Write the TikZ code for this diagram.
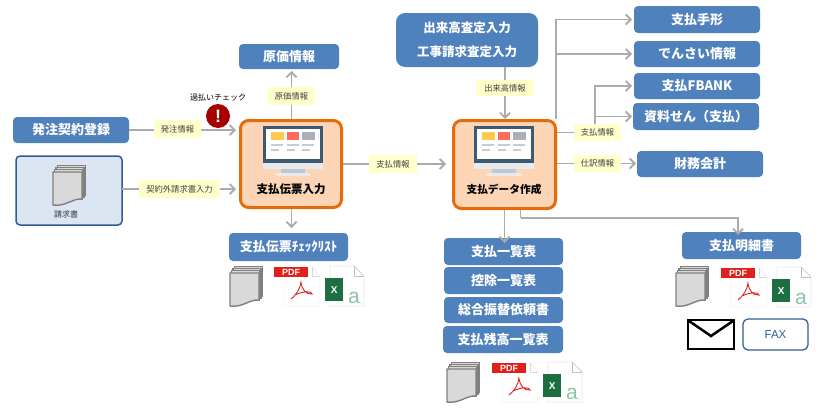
\documentclass[tikz,border=0pt]{standalone}
\usepackage{fontspec}
\setmainfont{Noto Sans CJK JP}
\newfontfamily\lat{Liberation Sans}
\usetikzlibrary{arrows.meta}
\definecolor{bluebox}{HTML}{4F81BD}
\definecolor{flowgray}{HTML}{ABABAB}
\definecolor{lblfill}{HTML}{FFFFCC}
\definecolor{orangeb}{HTML}{E46C0A}
\definecolor{orangef}{HTML}{FBD5B5}
\definecolor{docline}{HTML}{808080}
\definecolor{docfill}{HTML}{D9D9D9}
\definecolor{monit}{HTML}{3D5A73}
\definecolor{xlgreen}{HTML}{1D6F42}
\definecolor{pdfred}{HTML}{E0201B}
\definecolor{edgeblue}{HTML}{2F5C94}
\definecolor{paleblue}{HTML}{DCE6F2}
\definecolor{scry}{HTML}{FFC94D}
\definecolor{scrr}{HTML}{FF6B5B}
\definecolor{scrg}{HTML}{A9B0B8}
\definecolor{scrl}{HTML}{C5CDD8}
\definecolor{lipc}{HTML}{E8EAEC}
\definecolor{standc}{HTML}{BCC8D4}
\definecolor{aclr}{HTML}{8CC5A8}
\newcommand{\bxnode}[7][]{\node[#2,#1,minimum width={(#5-#3)*1pt},minimum height={(#6-#4)*1pt}] (#7) at ({(#3+#5)/2},{(#4+#6)/2})}
\tikzset{
 x=1pt,y=-1pt,
 bbox/.style={fill=bluebox,rounded corners=4pt,inner sep=0pt,outer sep=0pt,text=white,font=\fontsize{13}{15}\selectfont\bfseries,align=center},
 obox/.style={draw=orangeb,line width=3pt,fill=orangef,rounded corners=8pt,inner sep=0pt,outer sep=1.5pt},
 lbl/.style={fill=lblfill,inner sep=0pt,outer sep=0pt,font=\fontsize{8.3}{10}\selectfont,text=black!75},
 capt/.style={inner sep=0pt,font=\fontsize{11.5}{13}\selectfont\bfseries,text=black},
 flow/.style={draw=flowgray,line width=1.8pt,-{Straight Barb[length=5pt,width=10pt,line width=1.8pt]}},
 flowp/.style={draw=flowgray,line width=1.8pt},
 monitor/.pic={
  \fill[monit] (-30,0) rectangle (30,37);
  \fill[white] (-27,3) rectangle (27,33);
  \fill[lipc] (-30,37) rectangle (30,43);
  \fill[standc] (-12,43) rectangle (12,47);
  \fill[lipc] (-17,47) rectangle (17,50);
  \fill[scry] (-22,6) rectangle (-9,14);
  \fill[scrr] (-6,6) rectangle (6,14);
  \fill[scrg] (9,6) rectangle (22,14);
  \foreach \xa in {-22,-6,9}{
   \fill[scrl] (\xa,18) rectangle ++(12.5,2);
   \fill[scrl] (\xa,23) rectangle ++(8,2);}
 },
 docstack/.pic={
  \foreach \dx/\dy in {4.5/0.5,3/2.5,1.5/4.5}{
   \draw[docline,line width=1.1pt,fill=docfill] (\dx,\dy) rectangle ++(28,30);}
  \draw[docline,line width=1.4pt,fill=docfill] (0,7) -- (29,7) -- (29,34) .. controls (20,33) and (12,42) .. (0,40) -- cycle;
 },
 fileicons/.pic={
  \draw[black!12,fill=white] (10,0) -- (38,0) -- (46,9) -- (46,39) -- (10,39) -- cycle;
  \draw[black!15] (38,0) -- (38,9) -- (46,9);
  \node[fill=pdfred,text=white,inner sep=0pt,minimum width=34pt,minimum height=10pt,anchor=north west,font=\lat\fontsize{9}{10}\selectfont\bfseries] (-pdf) at (0,0) {PDF};
  \draw[pdfred,line width=0.9pt] (27,14) .. controls (26.5,22) and (22,28) .. (17,32);
  \draw[pdfred,line width=0.9pt] (27,16) .. controls (28,22) and (32,28) .. (38,27) .. controls (38,24) and (30,24) .. (22,27.5);
  \draw[black!25,fill=white] (56,-1) -- (80,-1) -- (90,9) -- (90,39) -- (56,39) -- cycle;
  \draw[black!25] (80,-1) -- (80,9) -- (90,9);
  \node[fill=xlgreen,text=white,inner sep=0pt,minimum width=18pt,minimum height=23pt,anchor=north west,font=\lat\fontsize{10}{11}\selectfont\bfseries] (-x) at (51,11) {X};
  \node[text=aclr,inner sep=0pt,anchor=base west,font=\lat\fontsize{21}{22}\selectfont] (-a) at (74,36) {a};
  \node[text=aclr,inner sep=0pt,anchor=base west,font=\lat\fontsize{7}{8}\selectfont] (-c) at (86,36) {,};
 }
}
\begin{document}
\begin{tikzpicture}
\useasboundingbox (0,0) rectangle (825,410);
\fill[white] (0,0) rectangle (825,410);
% boxes
\bxnode{bbox}{13}{117}{129}{143}{hacchu} {発注契約登録};
\bxnode[draw=edgeblue,line width=1.5pt,fill=paleblue]{bbox}{16}{156}{122}{225}{seikyu} {};
\bxnode{obox}{240.5}{120.5}{341.5}{207.5}{denpyo} {};
\bxnode{bbox}{229}{233}{348}{261}{check} {支払伝票ﾁｪｯｸﾘｽﾄ};
\bxnode{bbox}{239}{44}{339}{69}{genka} {原価情報};
\bxnode[rounded corners=9pt,font=\fontsize{12.5}{24}\selectfont\bfseries]{bbox}{396}{13}{538}{67}{dekidaka} {出来高査定入力\\工事請求査定入力};
\bxnode{obox}{453.5}{120.5}{555.5}{208.5}{sdata} {};
\bxnode{bbox}{634}{6}{760}{33}{tegata} {支払手形};
\bxnode{bbox}{634}{41}{760}{67}{densai} {でんさい情報};
\bxnode{bbox}{634}{73}{760}{99}{fbank} {支払FBANK};
\bxnode{bbox}{633}{103}{759}{130}{shiryo} {資料せん（支払）};
\bxnode{bbox}{637}{151}{763}{177}{zaimu} {財務会計};
\bxnode{bbox}{444}{238}{563}{265}{ichiran} {支払一覧表};
\bxnode{bbox}{444}{267}{563}{294}{kojo} {控除一覧表};
\bxnode{bbox}{444}{297}{563}{323}{sogo} {総合振替依頼書};
\bxnode{bbox}{443}{326}{563}{353}{zandaka} {支払残高一覧表};
\bxnode{bbox}{682}{232}{801}{259}{meisai} {支払明細書};
\bxnode[fill=white,draw=edgeblue,line width=1.2pt,text=edgeblue,font=\lat\fontsize{11.5}{13}\selectfont,rounded corners=5pt]{bbox}{743}{319}{808}{350}{fax} {FAX};
% labels
\bxnode{lbl}{154}{120}{201}{138}{l1} {発注情報};
\bxnode{lbl}{139}{180}{220}{198}{l2} {契約外請求書入力};
\bxnode{lbl}{268}{87}{315}{105}{l3} {原価情報};
\bxnode{lbl}{369}{155}{417}{173}{l4} {支払情報};
\bxnode{lbl}{476}{80}{534}{96}{l5} {出来高情報};
\bxnode{lbl}{574}{124}{621}{141}{l6} {支払情報};
\bxnode{lbl}{574}{155}{621}{172}{l7} {仕訳情報};
% connectors
\coordinate (tgtl) at (236,0);
\coordinate (tgtr) at (446,0);
\coordinate (trunk) at (556,119);
\coordinate (branch) at (595,124);
\coordinate (corner) at (520.5,218);
\coordinate (meisaiTop) at (738,218);
\draw[flowp] (hacchu.east) -- (l1.west |- hacchu.east);
\draw[flow] (l1.east |- hacchu.east) -- (tgtl |- hacchu.east);
\draw[flowp] (seikyu.east |- l2.west) -- (l2.west);
\draw[flow] (l2.east) -- (tgtl |- l2.east);
\draw[flowp] (denpyo.north -| l3.south) -- (l3.south);
\draw[flow] (l3.north) -- ++(0,-16);
\draw[flow] (denpyo.south -| l3.south) -- ++(0,19);
\draw[flowp] (denpyo.east |- l4.west) -- (l4.west);
\draw[flow] (l4.east) -- (tgtr |- l4.east);
\draw[flowp] (dekidaka.south -| l5.north) -- (l5.north);
\draw[flow] (l5.south) -- (sdata.north -| l5.south);
\draw[flowp] (sdata.east |- l6.west) -- (l6.west);
\draw[flow] (trunk) |- ([xshift=-2pt]tegata.west);
\draw[flow] (trunk |- densai.west) -- ([xshift=-2pt]densai.west);
\draw[flow] (branch) |- ([xshift=-2pt]fbank.west);
\draw[flow] (branch |- shiryo.west) -- ([xshift=-1pt]shiryo.west);
\draw[flowp] (sdata.east |- l7.west) -- (l7.west);
\draw[flow] (l7.east) -- ([xshift=-1pt]zaimu.west |- l7.east);
\draw[flow] (sdata.south) -- ([yshift=-5pt]sdata.south |- ichiran.north);
\draw[flowp] (corner |- sdata.south) -- (corner);
\draw[flow] (corner) -- (meisaiTop) -- ([yshift=-3pt]meisaiTop |- meisai.north);
% alert
\node[circle,fill=red!65!black,minimum size=24pt,inner sep=0pt,text=white,font=\lat\fontsize{18}{19}\selectfont\bfseries] (alert) at (218,116) {!};
\node[inner sep=0pt,font=\fontsize{8}{10}\selectfont,text=black] (alertt) at (218,97) {過払いチェック};
% monitors & captions
\pic at (292.5,126) {monitor};
\node[capt] (c1) at (291,189) {支払伝票入力};
\pic at (503.5,126) {monitor};
\node[capt,font=\fontsize{10.7}{13}\selectfont\bfseries] (c2) at (504,189) {支払データ作成};
% documents
\pic at (53,165) {docstack};
\node[inner sep=0pt,font=\fontsize{8}{10}\selectfont,text=black!80] (c3) at (66,214) {請求書};
\pic at (230,266) {docstack};
\pic at (676,266) {docstack};
\pic at (447,362) {docstack};
\pic (f1) at (274,267) {fileicons};
\pic (f2) at (721,268) {fileicons};
\pic (f3) at (492,363) {fileicons};
% envelope
\draw[black,line width=2.5pt,fill=white] (688,320) rectangle (734,349);
\draw[black,line width=2.5pt] (689,321) -- (711,336) -- (733,321);
\end{tikzpicture}
\end{document}
